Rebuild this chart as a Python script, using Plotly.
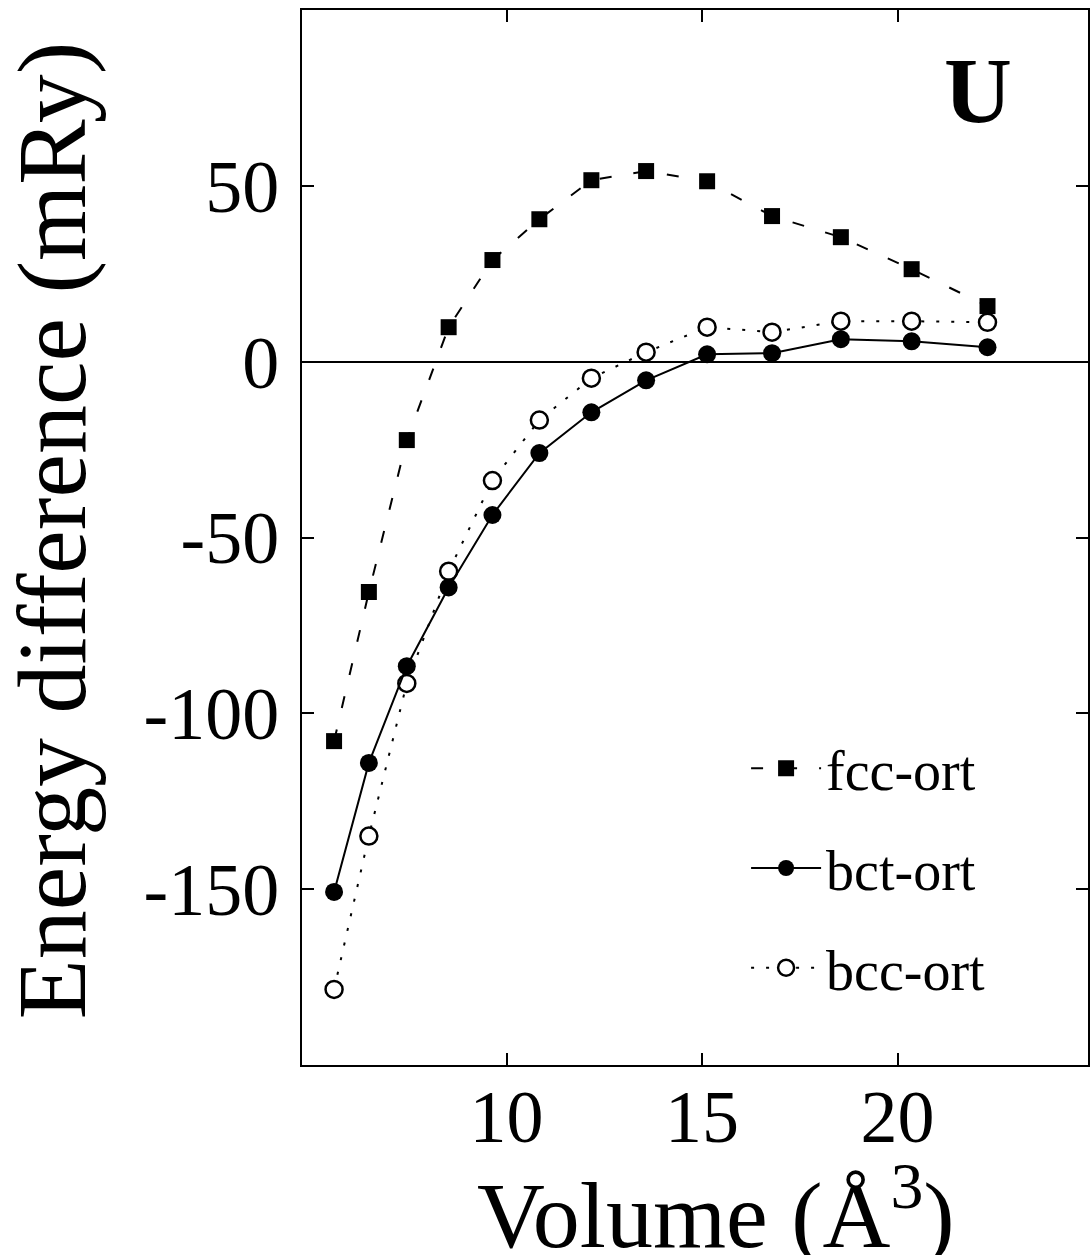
import plotly.graph_objects as go

volume = [5.59, 6.48, 7.45, 8.52, 9.64, 10.84, 12.17, 13.57, 15.13, 16.79, 18.55, 20.36, 22.30]
fcc_ort = [-107.9, -65.5, -22.3, 9.8, 28.9, 40.5, 51.6, 54.2, 51.3, 41.4, 35.4, 26.3, 15.8]
bct_ort = [-150.8, -114.1, -86.6, -64.2, -43.6, -26.0, -14.4, -5.3, 2.1, 2.4, 6.4, 5.8, 4.1]
bcc_ort = [-178.5, -134.9, -91.5, -59.6, -33.8, -16.6, -4.7, 2.7, 9.8, 8.4, 11.5, 11.5, 11.2]

x_ticks = [10, 15, 20]
y_ticks = [-150, -100, -50, 0, 50]
y_ticktext = ["-150", "-100", "-50", "0", "50"]

FONT = "Liberation Serif"

fig = go.Figure()
fig.add_trace(go.Scatter(
    x=volume, y=bcc_ort, name="bcc-ort", mode="lines+markers", legendgroup="c", legendrank=3,
    line=dict(color="black", width=2, dash="3px,12px"),
    marker=dict(symbol="circle", size=17, color="white", line=dict(color="black", width=2.5)),
))
fig.add_trace(go.Scatter(
    x=volume, y=bct_ort, name="bct-ort", mode="lines+markers", legendgroup="b", legendrank=2,
    line=dict(color="black", width=2),
    marker=dict(symbol="circle", size=18, color="black"),
))
fig.add_trace(go.Scatter(
    x=volume, y=fcc_ort, name="fcc-ort", mode="lines+markers", legendgroup="a", legendrank=1,
    line=dict(color="black", width=2, dash="12px,22px"),
    marker=dict(symbol="square", size=16, color="black"),
))

fig.update_layout(
    width=1090, height=1255,
    margin=dict(l=302, r=0, t=10, b=190),
    paper_bgcolor="white", plot_bgcolor="white",
    font=dict(family=FONT, color="black"),
    showlegend=True,
    legend=dict(
        x=0.565, y=0.322, xanchor="left", yanchor="top",
        font=dict(family=FONT, size=56, color="black"),
        bgcolor="rgba(0,0,0,0)", borderwidth=0,
        tracegroupgap=24, itemwidth=70,
    ),
    xaxis=dict(
        range=[4.77, 24.87], tickmode="array", tickvals=x_ticks,
        ticks="inside", ticklen=12, tickwidth=2, tickcolor="black",
        showline=True, linecolor="black", linewidth=2, mirror="ticks",
        showgrid=False, zeroline=False,
        tickfont=dict(family=FONT, size=74, color="black"),
        ticklabelstandoff=-14,
    ),
    yaxis=dict(
        range=[-200, 100], tickmode="array", tickvals=y_ticks, ticktext=y_ticktext,
        ticks="inside", ticklen=12, tickwidth=2, tickcolor="black",
        showline=True, linecolor="black", linewidth=2, mirror="ticks",
        showgrid=False, zeroline=True, zerolinecolor="black", zerolinewidth=2,
        tickfont=dict(family=FONT, size=74, color="black"),
        ticklabelstandoff=6,
    ),
    annotations=[
        dict(text="Energy difference (mRy)", textangle=-90, xref="paper", yref="paper",
             x=-0.318, y=0.507, xanchor="center", yanchor="middle", showarrow=False,
             font=dict(family=FONT, size=98, color="black")),
        dict(text="Volume (Å<sup>3</sup>)", xref="paper", yref="paper",
             x=0.527, y=-0.136, xanchor="center", yanchor="middle", showarrow=False,
             font=dict(family=FONT, size=94, color="black")),
        dict(text="<b>U</b>", xref="paper", yref="paper",
             x=0.860, y=0.924, xanchor="center", yanchor="middle", showarrow=False,
             font=dict(family=FONT, size=94, color="black")),
    ],
)

fig.write_html("out.html")
